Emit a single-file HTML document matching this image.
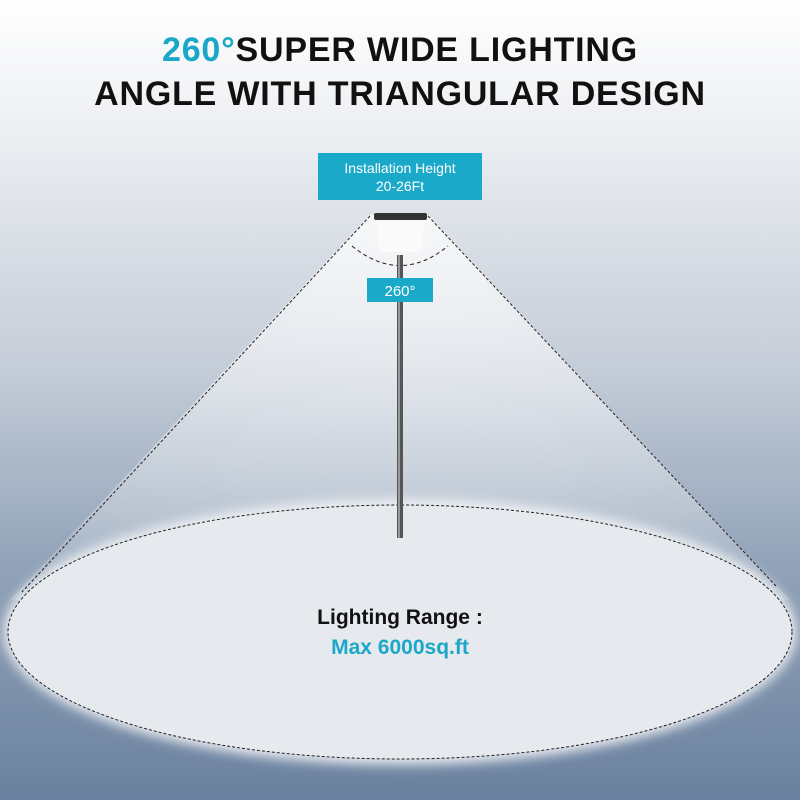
<!DOCTYPE html>
<html><head><style>
body{margin:0;width:800px;height:800px;overflow:hidden;font-family:"Liberation Sans",sans-serif}
.bg{position:absolute;left:0;top:0;width:800px;height:800px;background:linear-gradient(#ffffff 0%,#eef0f3 15%,#c6ced9 45%,#93a4b9 70%,#6a819f 100%)}
.t{position:absolute;left:0;width:800px;text-align:center;font-weight:bold;font-size:34px;color:#111;letter-spacing:0.8px}
</style></head><body>
<div class="bg"></div>
<svg width="800" height="800" style="position:absolute;left:0;top:0">
<defs>
<radialGradient id="cone" cx="0.5" cy="0" r="1">
<stop offset="0" stop-color="#fff" stop-opacity="1"/>
<stop offset="1" stop-color="#fff" stop-opacity="0.25"/>
</radialGradient>
<filter id="blur"><feGaussianBlur stdDeviation="6"/></filter>
</defs>
<polygon points="370,215 428,215 790,600 10,600" fill="url(#cone)" opacity="0.75"/>
<ellipse cx="400" cy="632" rx="396" ry="132" fill="#f4f5f7" filter="url(#blur)"/>
<ellipse cx="400" cy="632" rx="392" ry="127" fill="#e6e9ed"/>
<ellipse cx="400" cy="632" rx="392" ry="127" fill="none" stroke="#222" stroke-width="1" stroke-dasharray="3,2"/>
<line x1="370" y1="216" x2="22" y2="592" stroke="#222" stroke-dasharray="3,2"/>
<line x1="428" y1="216" x2="776" y2="586" stroke="#222" stroke-dasharray="3,2"/>
<path d="M352,246 Q400,285 448,246" fill="none" stroke="#222" stroke-dasharray="4,3"/>
<rect x="397" y="255" width="6" height="283" fill="#555"/>
<rect x="398" y="255" width="2" height="283" fill="#999"/>
<rect x="374" y="213" width="53" height="7" rx="2" fill="#333"/>
<rect x="378" y="220" width="45" height="32" rx="5" fill="#fafafa"/>
<rect x="318" y="153" width="164" height="47" fill="#1aa9c9"/>
<text x="400" y="173" font-size="14" fill="#fff" text-anchor="middle" font-family="Liberation Sans">Installation Height</text>
<text x="400" y="191" font-size="14" fill="#fff" text-anchor="middle" font-family="Liberation Sans">20-26Ft</text>
<rect x="367" y="278" width="66" height="24" fill="#1aa9c9"/>
<text x="400" y="296" font-size="15" fill="#fff" text-anchor="middle" font-family="Liberation Sans">260°</text>
<text x="400" y="624" font-size="21" font-weight="bold" fill="#111" text-anchor="middle" font-family="Liberation Sans">Lighting Range :</text>
<text x="400" y="654" font-size="21" font-weight="bold" fill="#1ba7c8" text-anchor="middle" font-family="Liberation Sans">Max 6000sq.ft</text>
</svg>
<div class="t" style="top:31px"><span style="color:#1ba7c8">260°</span>SUPER WIDE LIGHTING</div>
<div class="t" style="top:75px">ANGLE WITH TRIANGULAR DESIGN</div>
</body></html>
